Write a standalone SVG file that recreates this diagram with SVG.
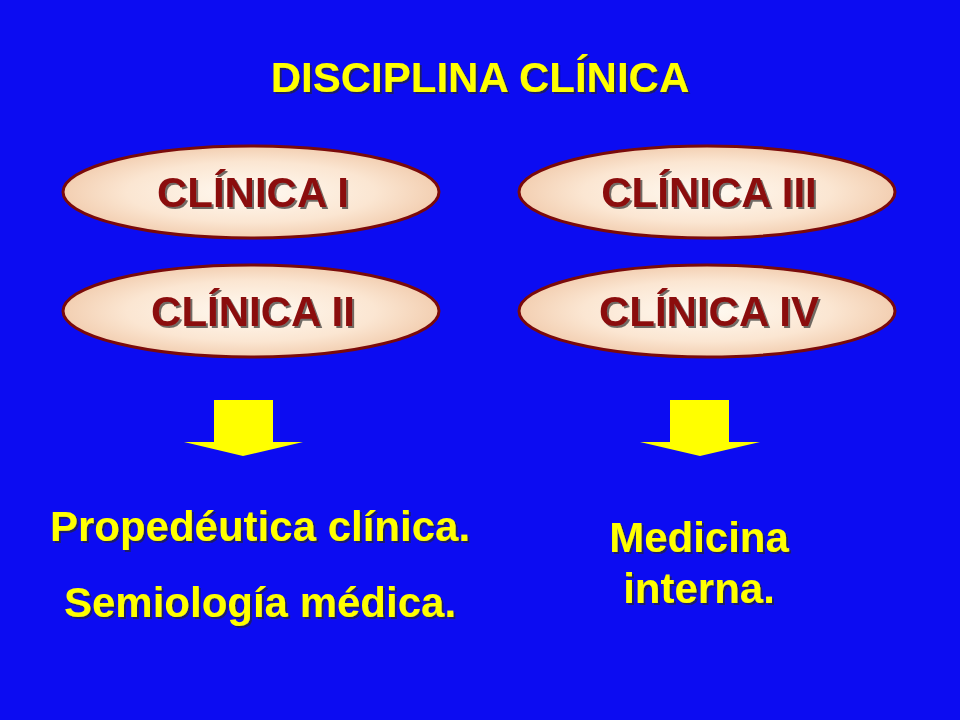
<svg xmlns="http://www.w3.org/2000/svg" width="960" height="720" viewBox="0 0 960 720">
<defs>
<radialGradient id="eg" cx="0.5" cy="0.5" r="0.55">
<stop offset="0" stop-color="#fffaf2"/><stop offset="0.6" stop-color="#fbe6d2"/><stop offset="1" stop-color="#f0c8a8"/>
</radialGradient>
<filter id="ds" x="-10%" y="-20%" width="120%" height="140%">
<feDropShadow dx="2" dy="2" stdDeviation="0.6" flood-color="#202020" flood-opacity="0.65"/>
</filter>
<style>
.el{fill:url(#eg);stroke:#7a0a0a;stroke-width:3}
.t{font-family:"Liberation Sans",Arial,sans-serif;font-weight:bold;text-anchor:middle;filter:url(#ds)}
.nt{font-size:42px;fill:#8b0a0a}
.y{fill:#ffff00;font-size:42px}
.ar{fill:#ffff00}
</style>
</defs>
<rect width="960" height="720" fill="#0c0cf2"/>
<g id="title"><text x="480" y="92" class="t y">DISCIPLINA CLÍNICA</text></g>
<g id="n1"><ellipse class="el" cx="251" cy="192" rx="188" ry="46"/><text x="253" y="207" class="t nt">CLÍNICA I</text></g>
<g id="n2"><ellipse class="el" cx="251" cy="311" rx="188" ry="46"/><text x="253" y="326" class="t nt">CLÍNICA II</text></g>
<g id="n3"><ellipse class="el" cx="707" cy="192" rx="188" ry="46"/><text x="709" y="207" class="t nt">CLÍNICA III</text></g>
<g id="n4"><ellipse class="el" cx="707" cy="311" rx="188" ry="46"/><text x="709" y="326" class="t nt">CLÍNICA IV</text></g>
<g id="connectors">
<polygon class="ar" points="214,400 273,400 273,442 303,442 243,456 184,442 214,442"/>
<polygon class="ar" points="670,400 729,400 729,442 760,442 700,456 640,442 670,442"/>
</g>
<g id="left-text">
<text x="260" y="541" class="t y">Propedéutica clínica.</text>
<text x="260" y="617" class="t y">Semiología médica.</text>
</g>
<g id="right-text">
<text x="699" y="552" class="t y">Medicina</text>
<text x="699" y="603" class="t y">interna.</text>
</g>
</svg>
